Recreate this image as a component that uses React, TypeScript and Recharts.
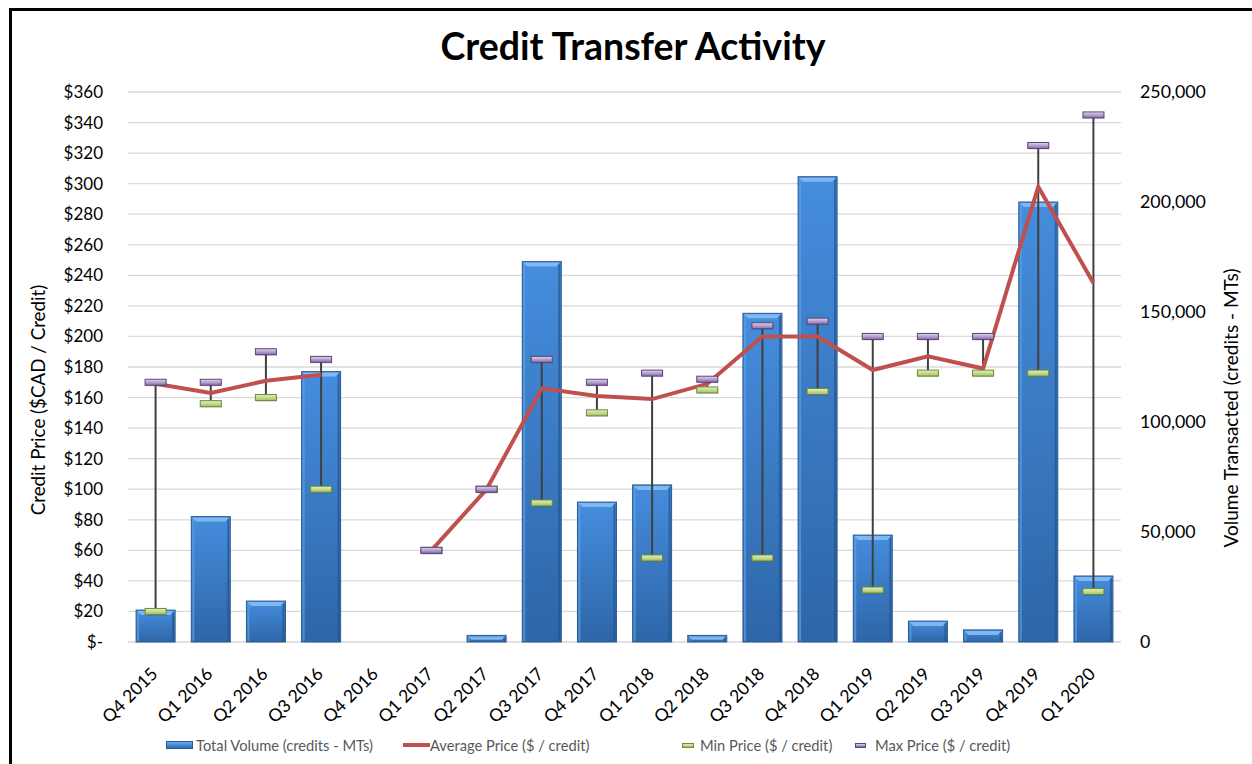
import React from 'react';
import { ComposedChart, Bar, Line, Scatter, XAxis, YAxis, CartesianGrid, ErrorBar, Legend } from 'recharts';

const quarters = ['Q4 2015', 'Q1 2016', 'Q2 2016', 'Q3 2016', 'Q4 2016', 'Q1 2017', 'Q2 2017', 'Q3 2017', 'Q4 2017', 'Q1 2018', 'Q2 2018', 'Q3 2018', 'Q4 2018', 'Q1 2019', 'Q2 2019', 'Q3 2019', 'Q4 2019', 'Q1 2020'];
const totalVolume = [14500, 57000, 18600, 122900, null, null, 3000, 172900, 63600, 71400, 3000, 149400, 211500, 48600, 9500, 5500, 200000, 30000];
const avgPrice = [169, 163, 171, 175, null, 60, 100, 166, 161, 159, 169, 200, 200, 178, 187, 179, 298, 235];
const minPrice = [20, 156, 160, 100, null, 60, 100, 91, 150, 55, 165, 55, 164, 34, 176, 176, 176, 33];
const maxPrice = [170, 170, 190, 185, null, 60, 100, 185, 170, 176, 172, 207, 210, 200, 200, 200, 325, 345];
const priceTicks = [0, 20, 40, 60, 80, 100, 120, 140, 160, 180, 200, 220, 240, 260, 280, 300, 320, 340, 360];
const volumeTicks = [0, 50000, 100000, 150000, 200000, 250000];

const legendItems = [
  { label: 'Total Volume (credits - MTs)', kind: 'bar', left: 166 },
  { label: 'Average Price ($ / credit)', kind: 'line', left: 403 },
  { label: 'Min Price ($ / credit)', kind: 'min', left: 682 },
  { label: 'Max Price ($ / credit)', kind: 'max', left: 855 },
];

const data = quarters.map((q, i) => ({
  quarter: q,
  volume: totalVolume[i],
  avg: avgPrice[i],
  min: minPrice[i],
  max: maxPrice[i],
}));

const FONT = 'Lato, "Open Sans", sans-serif';

const BarShape = (props: any) => {
  const { x, y, width, height } = props;
  if (!height || height <= 0 || isNaN(y)) return <g />;
  const b = Math.min(4, height / 2);
  return (
    <g>
      <rect x={x} y={y} width={width} height={height} fill="url(#barGrad)" stroke="#2a5a94" strokeWidth={1} />
      <rect x={x + 1} y={y + 1} width={2} height={Math.max(0, height - 2)} fill="#5c9fe6" opacity={0.7} />
      <rect x={x + width - 3} y={y + 1} width={2} height={Math.max(0, height - 2)} fill="#23528a" opacity={0.7} />
      <polygon points={`${x + 1},${y + 1} ${x + width - 1},${y + 1} ${x + width - 1 - b},${y + b + 1} ${x + 1 + b},${y + b + 1}`} fill="#86bdf3" opacity={0.9} />
    </g>
  );
};

const makeMarker = (edge: string, gid: string, key: string) => (props: any) => {
  const { cx, cy, payload } = props;
  if (payload == null || payload[key] == null || isNaN(cy)) return <g />;
  return (
    <g>
      <rect x={cx - 10} y={cy - 2} width={21} height={6} fill="#000" opacity={0.18} />
      <rect x={cx - 10.5} y={cy - 3} width={21} height={6} fill={`url(#${gid})`} stroke={edge} strokeWidth={1} />
    </g>
  );
};

const MinShape = makeMarker('#6f8a36', 'minGrad', 'min');
const MaxShape = makeMarker('#5a4577', 'maxGrad', 'max');
const NoShape = () => <g />;

const XTick = (props: any) => {
  const { x, y, payload } = props;
  const ax = x + 3;
  const ay = y + 33;
  return (
    <text x={ax} y={ay} transform={`rotate(-45, ${ax}, ${ay})`} textAnchor="end" fontFamily={FONT} fontSize={17.5} fill="#000">
      {payload.value}
    </text>
  );
};

const LeftLabel = (props: any) => {
  const { viewBox } = props;
  const cx = 37;
  const cy = viewBox.y + viewBox.height / 2 + 33;
  return (
    <text x={cx} y={cy} transform={`rotate(-90, ${cx}, ${cy})`} textAnchor="middle" dominantBaseline="central" fontFamily={FONT} fontSize={18.8} fill="#000">
      Credit Price ($CAD / Credit)
    </text>
  );
};

const RightLabel = (props: any) => {
  const { viewBox } = props;
  const cx = 1230;
  const cy = viewBox.y + viewBox.height / 2 + 41;
  return (
    <text x={cx} y={cy} transform={`rotate(-90, ${cx}, ${cy})`} textAnchor="middle" dominantBaseline="central" fontFamily={FONT} fontSize={19} fill="#000">
      Volume Transacted (credits - MTs)
    </text>
  );
};

const LegendContent = () => (
  <div style={{ position: 'relative', width: 1252, height: 26, fontFamily: FONT, fontSize: 14.7, color: '#595959' }}>
    {legendItems.map((it) => (
      <div key={it.label} style={{ position: 'absolute', left: it.left, top: 0, height: 26, display: 'flex', alignItems: 'center', whiteSpace: 'nowrap' }}>
        {it.kind === 'bar' && (
          <span style={{ display: 'inline-block', width: 27, height: 8, background: 'linear-gradient(#6aaaf0, #2f6aae)', border: '1px solid #2a5a94', boxSizing: 'border-box', marginRight: 3 }} />
        )}
        {it.kind === 'line' && (
          <span style={{ display: 'inline-block', width: 27, height: 4, background: '#c0504d', marginRight: 0 }} />
        )}
        {it.kind === 'min' && (
          <span style={{ display: 'inline-block', width: 12, height: 5, background: 'linear-gradient(#e3efc4, #9bbb59)', border: '1px solid #6f8a36', boxSizing: 'border-box', marginRight: 6 }} />
        )}
        {it.kind === 'max' && (
          <span style={{ display: 'inline-block', width: 11, height: 5, background: 'linear-gradient(#ddd3ea, #8064a2)', border: '1px solid #5a4577', boxSizing: 'border-box', marginRight: 9 }} />
        )}
        <span>{it.label}</span>
      </div>
    ))}
  </div>
);

export default function App() {
  return (
    <div style={{ position: 'fixed', left: 0, top: 0, width: 1252, height: 764, overflow: 'hidden', background: '#fff' }}>
      <div style={{ position: 'absolute', left: 9, top: 8, width: 1400, height: 900, border: '3px solid #000', boxSizing: 'border-box' }} />
      <div style={{ position: 'absolute', left: 7, top: 23.5, width: 1252, textAlign: 'center', fontFamily: FONT, fontWeight: 700, fontSize: 37.5, lineHeight: '44px', color: '#000' }}>
        Credit Transfer Activity
      </div>
      <div style={{ position: 'absolute', left: 0, top: 0 }}>
        <ComposedChart width={1252} height={764} data={data} margin={{ top: 92, right: 0, bottom: 6, left: 0 }} barCategoryGap="14.7%">
          <defs>
            <linearGradient id="barGrad" x1="0" y1="0" x2="0" y2="1">
              <stop offset="0%" stopColor="#458ddd" />
              <stop offset="100%" stopColor="#2e66a8" />
            </linearGradient>
            <linearGradient id="minGrad" x1="0" y1="0" x2="0" y2="1">
              <stop offset="0%" stopColor="#e6f2c6" />
              <stop offset="100%" stopColor="#a2c25e" />
            </linearGradient>
            <linearGradient id="maxGrad" x1="0" y1="0" x2="0" y2="1">
              <stop offset="0%" stopColor="#e0d6ee" />
              <stop offset="100%" stopColor="#8a6cb0" />
            </linearGradient>
          </defs>
          <CartesianGrid vertical={false} stroke="#d9d9d9" strokeWidth={1.3} yAxisId="price" />
          <XAxis dataKey="quarter" interval={0} tickLine={false} axisLine={false} tickSize={0} tickMargin={0} height={90} tick={<XTick />} />
          <YAxis
            yAxisId="price"
            orientation="left"
            domain={[0, 360]}
            ticks={priceTicks}
            interval={0}
            tickFormatter={(v: number) => (v === 0 ? '$-' : `$${v}`)}
            axisLine={false}
            tickLine={false}
            tickSize={0}
            tickMargin={25}
            width={128}
            tick={{ fontFamily: FONT, fontSize: 17, fill: '#000' }}
            label={<LeftLabel />}
          />
          <YAxis
            yAxisId="vol"
            orientation="right"
            domain={[0, 250000]}
            ticks={volumeTicks}
            interval={0}
            tickFormatter={(v: number) => v.toLocaleString('en-US')}
            axisLine={false}
            tickLine={false}
            tickSize={0}
            tickMargin={19}
            width={131}
            tick={{ fontFamily: FONT, fontSize: 17.8, fill: '#000', textAnchor: 'start' }}
            label={<RightLabel />}
          />
          <Bar yAxisId="vol" dataKey="volume" name="Total Volume (credits - MTs)" shape={<BarShape />} isAnimationActive={false} />
          <Scatter yAxisId="price" dataKey="min" name="range" shape={<NoShape />} isAnimationActive={false} legendType="none">
            <ErrorBar
              dataKey={(d: any) => (d.min == null || d.max == null ? [0, 0] : [0, d.max - d.min])}
              direction="y"
              width={0}
              stroke="#404040"
              strokeWidth={2}
              isAnimationActive={false}
            />
          </Scatter>
          <Line yAxisId="price" type="linear" dataKey="avg" name="Average Price ($ / credit)" stroke="#c0504d" strokeWidth={4} dot={false} activeDot={false} connectNulls={false} isAnimationActive={false} />
          <Scatter yAxisId="price" dataKey="min" name="Min Price ($ / credit)" shape={<MinShape />} isAnimationActive={false} />
          <Scatter yAxisId="price" dataKey="max" name="Max Price ($ / credit)" shape={<MaxShape />} isAnimationActive={false} />
          <Legend verticalAlign="bottom" align="left" height={26} wrapperStyle={{ left: 0, width: 1252 }} content={<LegendContent />} />
        </ComposedChart>
      </div>
    </div>
  );
}
